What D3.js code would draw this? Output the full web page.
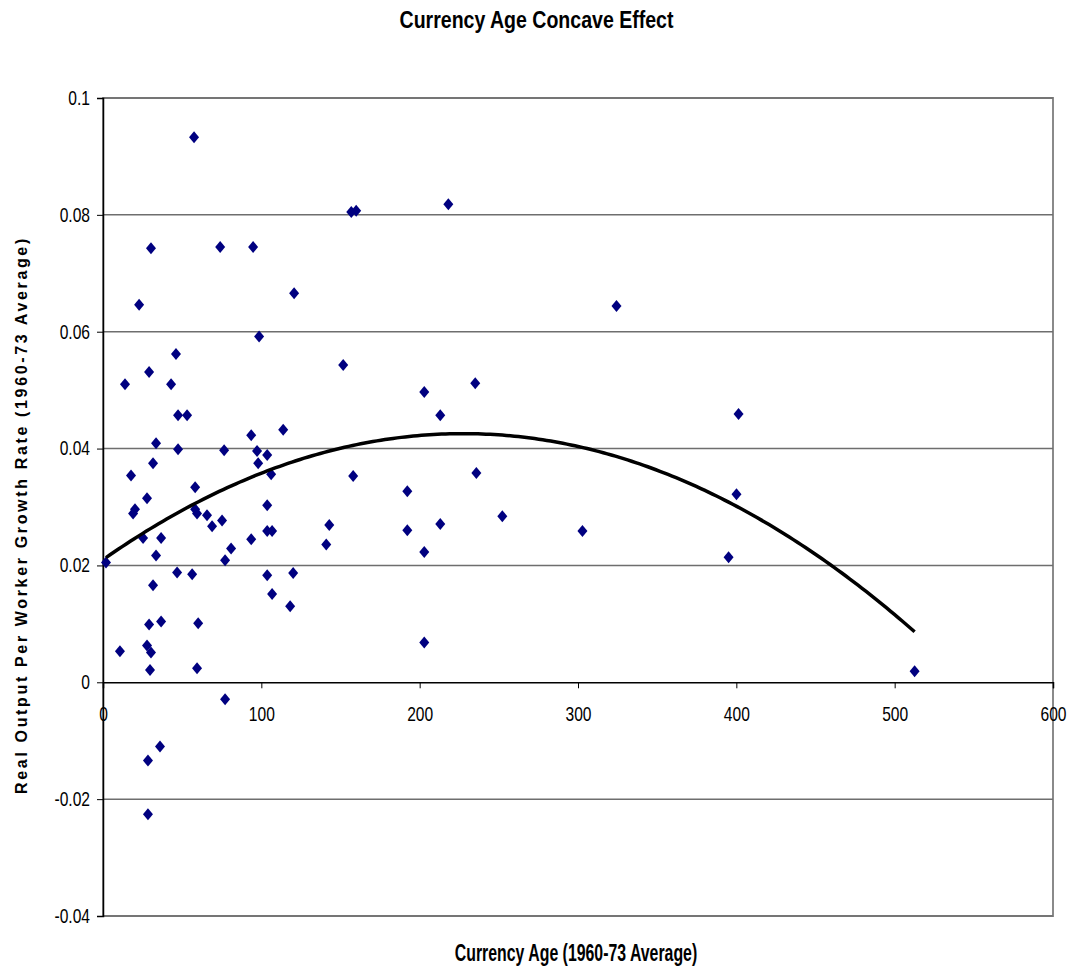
<!DOCTYPE html>
<html>
<head>
<meta charset="utf-8">
<script src="https://cdn.jsdelivr.net/npm/d3@7"></script>
<style>
  body { margin: 0; background: #fff; }
  svg text { font-family: "Liberation Sans", Arial, sans-serif; }
</style>
</head>
<body>
<div id="chart"></div>
<script>
// currency age (x) and real output per worker growth rate (y)
var currencyAge = [
  1.9, 10.7, 13.9, 17.7, 19.0, 20.2, 22.8, 25.3, 27.8, 27.8,
  28.4, 28.4, 29.1, 29.1, 29.7, 30.3, 30.3, 31.6, 31.6, 33.5,
  33.5, 36.0, 36.7, 36.7, 43.0, 46.1, 46.8, 47.4, 47.4, 53.1,
  56.3, 57.5, 58.2, 58.2, 59.4, 59.4, 60.1, 65.7, 68.9, 74.0,
  75.2, 76.5, 77.1, 77.1, 80.9, 93.6, 93.6, 94.8, 97.3, 98.0,
  98.6, 103.7, 103.7, 103.7, 106.8, 103.7, 106.2, 106.8, 113.8, 118.2,
  120.1, 120.7, 141.0, 142.9, 151.7, 156.8, 159.9, 158.0, 192.2, 192.2,
  202.9, 202.9, 202.9, 213.0, 213.0, 218.1, 235.1, 235.8, 252.2, 302.8,
  324.3, 395.1, 400.1, 401.4, 512.6
];
var growthRate = [
  0.0205, 0.0053, 0.0510, 0.0354, 0.0289, 0.0296, 0.0646, 0.0247, 0.0315, 0.0063,
  -0.0134, -0.0226, 0.0531, 0.0099, 0.0021, 0.0051, 0.0743, 0.0375, 0.0166, 0.0409,
  0.0217, -0.0110, 0.0247, 0.0104, 0.0510, 0.0562, 0.0188, 0.0457, 0.0399, 0.0457,
  0.0185, 0.0933, 0.0334, 0.0296, 0.0289, 0.0024, 0.0101, 0.0286, 0.0267, 0.0745,
  0.0277, 0.0397, 0.0209, -0.0029, 0.0229, 0.0423, 0.0245, 0.0745, 0.0396, 0.0375,
  0.0592, 0.0389, 0.0303, 0.0259, 0.0259, 0.0183, 0.0356, 0.0151, 0.0432, 0.0130,
  0.0187, 0.0666, 0.0236, 0.0269, 0.0543, 0.0805, 0.0807, 0.0353, 0.0327, 0.0260,
  0.0497, 0.0223, 0.0068, 0.0457, 0.0271, 0.0818, 0.0512, 0.0358, 0.0284, 0.0259,
  0.0644, 0.0214, 0.0322, 0.0459, 0.0019
];
var xTicks = [0, 100, 200, 300, 400, 500, 600];
var yTicks = [-0.04, -0.02, 0, 0.02, 0.04, 0.06, 0.08, 0.1];

var titleText = "Currency Age Concave Effect";
var xLabel    = "Currency Age (1960-73 Average)";
var yLabel    = "Real Output Per Worker Growth Rate (1960-73 Average)";

var width   = 1073;
var height  = 971;
var plotL   = 103;
var plotR   = 1053;
var plotT   = 98;
var plotB   = 916;
var narrow  = 0.78;   // squeeze for the condensed-looking tick labels

var points = currencyAge.map(function(d, i) { return {x: d, y: growthRate[i]}; });

var svg = d3.select("#chart").append("svg")
  .attr("width", width)
  .attr("height", height);

var x = d3.scaleLinear().domain([0, 600]).range([plotL, plotR]);
var y = d3.scaleLinear().domain([-0.04, 0.1]).range([plotB, plotT]);

// plot frame (grey)
svg.append("rect")
  .attr("x", plotL).attr("y", plotT)
  .attr("width", plotR - plotL).attr("height", plotB - plotT)
  .style("fill", "none")
  .style("stroke", "#8a8a8a")
  .style("stroke-width", "2px");

// horizontal gridlines
svg.selectAll(".grid").data(yTicks.filter(function(d) { return d !== 0; }))
  .enter().append("line")
  .attr("x1", plotL).attr("x2", plotR)
  .attr("y1", function(d) { return y(d); })
  .attr("y2", function(d) { return y(d); })
  .style("stroke", "#6e6e6e")
  .style("stroke-width", "1.5px");

// y axis on the left
var yAxis = d3.axisLeft(y).tickValues(yTicks).tickSize(6).tickPadding(7)
  .tickFormat(function(d) { return d === 0 ? "0" : String(+d.toFixed(2)); });
var gy = svg.append("g").attr("transform", "translate(" + plotL + ",0)").call(yAxis);
gy.select(".domain").style("stroke", "#000").style("stroke-width", "1.5px");
gy.selectAll(".tick line").style("stroke", "#000");
gy.selectAll("text").style("font-size", "20px").style("fill", "#000")
  .attr("x", -13 / narrow)
  .attr("transform", "scale(" + narrow + ",1)");

// x axis crosses at zero
var xAxis = d3.axisBottom(x).tickValues(xTicks).tickSize(6).tickPadding(19)
  .tickFormat(d3.format("d"));
var gx = svg.append("g").attr("transform", "translate(0," + y(0) + ")").call(xAxis);
gx.select(".domain").style("stroke", "#000").style("stroke-width", "1.5px");
gx.selectAll(".tick line").style("stroke", "#000");
gx.selectAll("text").style("font-size", "20px").style("fill", "#000")
  .attr("transform", "scale(" + narrow + ",1)");

// least-squares quadratic trendline from the points
function quadFit(pts) {
  var s = [0, 0, 0, 0, 0], t = [0, 0, 0];
  pts.forEach(function(p) {
    var xp = 1;
    for (var k = 0; k < 5; k++) { s[k] += xp; if (k < 3) t[k] += xp * p.y; xp *= p.x; }
  });
  var m = [[s[0], s[1], s[2], t[0]], [s[1], s[2], s[3], t[1]], [s[2], s[3], s[4], t[2]]];
  for (var i = 0; i < 3; i++) {
    for (var j = i + 1; j < 3; j++) {
      var f = m[j][i] / m[i][i];
      for (var c = i; c < 4; c++) m[j][c] -= f * m[i][c];
    }
  }
  var r = [0, 0, 0];
  for (var i2 = 2; i2 >= 0; i2--) {
    var v = m[i2][3];
    for (var c2 = i2 + 1; c2 < 3; c2++) v -= m[i2][c2] * r[c2];
    r[i2] = v / m[i2][i2];
  }
  return r;
}
var coef = quadFit(points);
var xMin = d3.min(currencyAge), xMax = d3.max(currencyAge);
var trend = d3.range(0, 201).map(function(i) {
  var xv = xMin + (xMax - xMin) * i / 200;
  return {x: xv, y: coef[0] + coef[1] * xv + coef[2] * xv * xv};
});

// diamond markers
svg.selectAll(".pt").data(points).enter().append("path")
  .attr("d", "M0,-6L5,0L0,6L-5,0Z")
  .attr("transform", function(d) { return "translate(" + x(d.x) + "," + y(d.y) + ")"; })
  .style("fill", "#000080");

svg.append("path")
  .datum(trend)
  .attr("d", d3.line().x(function(d) { return x(d.x); }).y(function(d) { return y(d.y); }))
  .style("fill", "none")
  .style("stroke", "#000")
  .style("stroke-width", "3.5px");

// titles (condensed look like the original)
svg.append("text")
  .attr("transform", "translate(" + (width / 2) + ",28) scale(0.85,1)")
  .attr("text-anchor", "middle")
  .style("font-size", "23px").style("font-weight", "bold")
  .text(titleText);

svg.append("text")
  .attr("transform", "translate(576,961) scale(0.69,1)")
  .attr("text-anchor", "middle")
  .style("font-size", "23px").style("font-weight", "bold")
  .text(xLabel);

svg.append("text")
  .attr("transform", "translate(27,515) rotate(-90)")
  .attr("text-anchor", "middle")
  .style("font-size", "16px").style("font-weight", "bold")
  .style("letter-spacing", "2.65px")
  .text(yLabel);
</script>
</body>
</html>
